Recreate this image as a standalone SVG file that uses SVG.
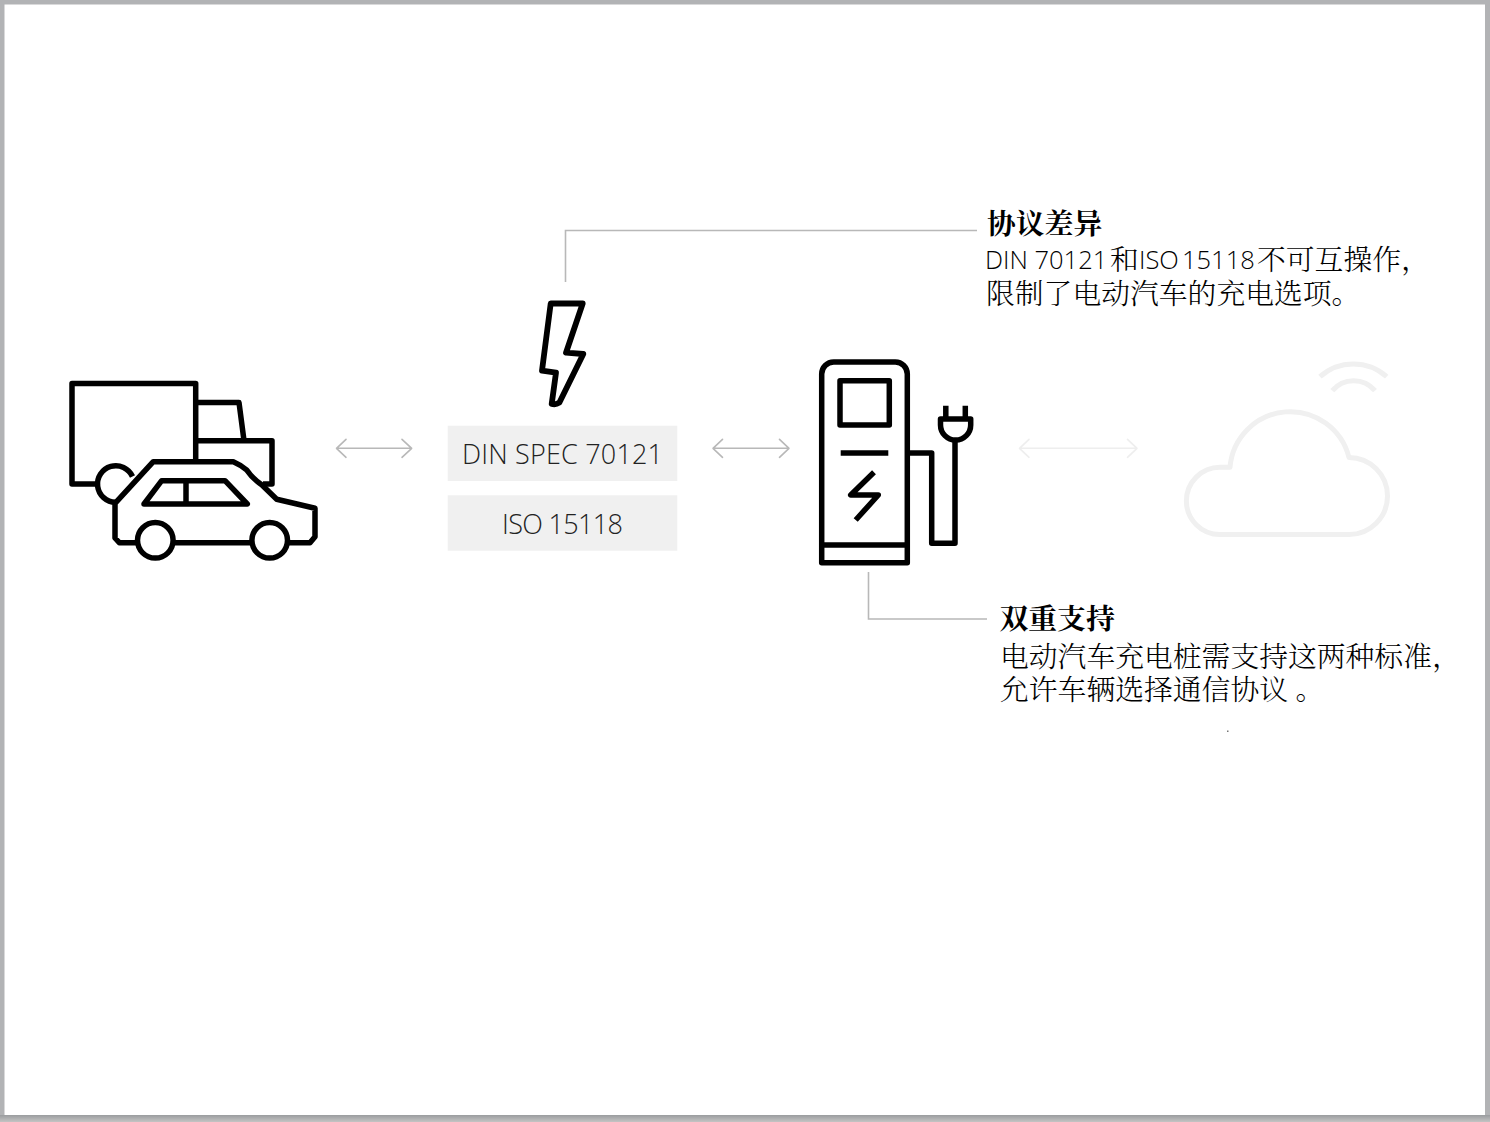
<svg xmlns="http://www.w3.org/2000/svg" width="1490" height="1122" viewBox="0 0 1490 1122">
<style>
.i{fill:none;stroke:#000;stroke-width:5.500;stroke-linejoin:round;stroke-linecap:butt}
.l{fill:none;stroke:#b8b8b8;stroke-width:1.600}
.a{fill:none;stroke:#b8b8b8;stroke-width:1.600;stroke-linecap:round;stroke-linejoin:round}
.f{fill:none;stroke:#f0f0f0;stroke-width:5;stroke-linejoin:round}
.b{font-family:"Open Sans","Noto Sans",sans-serif;font-weight:300;font-size:27px;fill:#222;text-anchor:middle}
.h{font-family:"Noto Serif CJK SC","Noto Sans CJK SC",sans-serif;font-weight:700;font-size:28.800px;fill:#000}
.t{font-family:"Noto Serif CJK SC","Noto Sans CJK SC",sans-serif;font-weight:300;font-size:28.800px;fill:#000}
.n{font-family:"Open Sans",sans-serif;font-weight:300;font-size:25.500px}
</style>
<defs>
<linearGradient id="bot" x1="0" y1="0" x2="0" y2="1"><stop offset="0" stop-color="#9a9c9e"/><stop offset="1" stop-color="#c4c4c4"/></linearGradient>
</defs>
<g id="frame">
<rect width="1490" height="1122" fill="#b2b3b5"/>
<rect y="1115" width="1490" height="7" fill="url(#bot)"/>
<rect x="4.500" y="4.500" width="1480.500" height="1110.500" fill="#fff"/>
</g>
<g id="connectors">
<path class="l" d="M565.500 282V230.500H977"/>
<path class="l" d="M868.500 572V619H987"/>
<path class="a" d="M346 439.300L336.500 448.300L346 457.300M336.500 448.300H411.700M402 439.300L411.700 448.300L402 457.300"/>
<path class="a" d="M722.500 439.300L713 448.300L722.500 457.300M713 448.300H789M779.500 439.300L789 448.300L779.500 457.300"/>
<path class="a" style="stroke:#eeeeee" d="M1029 439.300L1019.500 448.300L1029 457.300M1019.500 448.300H1137M1127.500 439.300L1137 448.300L1127.500 457.300"/>
</g>
<g id="vehicles">
<path class="i" d="M95.800 484H72V383.500H195.700V461"/>
<path class="i" d="M195.700 402.500H239L244 440.700"/>
<path class="i" d="M195.700 440.700H272V484H263"/>
<path class="i" d="M115.500 502.300A18.300 18.300 0 1 1 132.500 476.500"/>
<path class="i" d="M136.500 542.700H119.300L115 538V503.300L153.300 461.700H233.300Q241 465 246.700 470Q252 478 262 485L276.700 499.300L315 508.300V536.700L310 542.700H288M251.500 542.700H173.500"/>
<circle class="i" cx="155.300" cy="540.300" r="17.800"/>
<circle class="i" cx="269.700" cy="540.300" r="17.800"/>
<path class="i" d="M161.700 480.700H225L247.300 504H144ZM186 480.700V504"/>
</g>
<g id="bolt">
<path class="i" style="stroke-width:5.800" d="M550.700 303.500H582.700L566 352.700L583.300 354L559.300 402.700Q556 405 551.700 404L556 372.700L542 370.700Z"/>
</g>
<g id="din"><rect x="447.700" y="425.700" width="229.600" height="55.300" fill="#f0f0f0"/><text class="b" x="562.500" y="464" textLength="201">DIN SPEC 70121</text></g>
<g id="iso"><rect x="447.700" y="495.300" width="229.600" height="55.400" fill="#f0f0f0"/><text class="b" x="562.500" y="534" textLength="121">ISO 15118</text></g>
<g id="charger">
<path class="i" d="M821.700 374A12 12 0 0 1 833.700 362H895.300A12 12 0 0 1 907.300 374V562.700H821.700ZM821.700 545H907.300"/>
<rect class="i" x="840" y="380.700" width="49.300" height="44.300"/>
<path class="i" d="M840.700 453H888.300M874 472.300L850.700 495H878.300L855.700 520"/>
<path class="i" d="M908 453H931.700V543.300H955V440"/>
<path class="i" d="M940.500 419V425A15.100 15.100 0 0 0 970.700 425V419ZM945.800 405.700V419M965.300 405.700V419"/>
</g>
<g id="cloud">
<path class="f" d="M1220 534.500H1349A38.500 38.500 0 0 0 1349 457.500A60.500 60.500 0 0 0 1230 467.300H1220A33.600 33.600 0 0 0 1220 534.500Z"/>
<path class="f" d="M1320 376.700A50 50 0 0 1 1386.700 376.700M1332.300 390.700A27.700 27.700 0 0 1 1375 390.700"/>
</g>
<g id="note-1">
<text class="h" x="987" y="234">协议差异</text>
<text class="t" y="270"><tspan class="n" x="985" y="269">DIN</tspan><tspan class="n" x="1034.500" y="269">70121</tspan><tspan x="1110" y="270">和</tspan><tspan class="n" x="1139" y="269">ISO</tspan><tspan class="n" x="1182" y="269">15118</tspan><tspan x="1257" y="270">不可互操作，</tspan></text>
<text class="t" x="986" y="304">限制了电动汽车的充电选项。</text>
</g>
<g id="note-2">
<text class="h" x="999.500" y="629">双重支持</text>
<text class="t" x="1000" y="667">电动汽车充电桩需支持这两种标准，</text>
<text class="t" x="1000" y="700">允许车辆选择通信协议 。</text>
<rect x="1227" y="730.500" width="1.500" height="1.500" fill="#777"/>
</g>
</svg>
